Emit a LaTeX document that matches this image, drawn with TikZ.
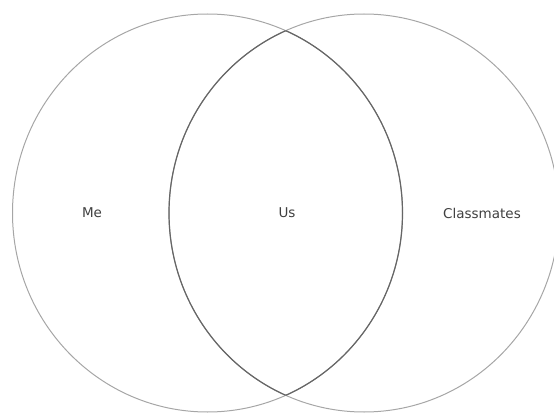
\documentclass[tikz,border=0pt]{standalone}
\usepackage{fontspec}
\setmainfont{DejaVu Sans}
\usetikzlibrary{positioning}

\begin{document}
\begin{tikzpicture}[
  x=1pt, y=1pt,
  set/.style={draw=black!35, line width=1pt},
  lens/.style={draw=black!60, line width=1.2pt},
  lbl/.style={text=black!75, font=\fontsize{13.5}{16}\selectfont}
]
\useasboundingbox (0,0) rectangle (554,413);

% Centres of the two sets
\coordinate (mec) at (207.5,200);
\coordinate (classc) at (364,200);

% Sets
\draw[set] (mec) ellipse [x radius=195, y radius=199];
\draw[set] (classc) ellipse [x radius=195, y radius=199];

% Overlap border, a bit darker
\begin{scope}
  \clip (classc) ellipse [x radius=195, y radius=199];
  \draw[lens] (mec) ellipse [x radius=195, y radius=199];
\end{scope}
\begin{scope}
  \clip (mec) ellipse [x radius=195, y radius=199];
  \draw[lens] (classc) ellipse [x radius=195, y radius=199];
\end{scope}

% Labels
\node[lbl] (me) at (92,200) {Me};
\node[lbl] (us) at (287,200) {Us};
\node[lbl] (classmates) at (482,200) {Classmates};

\end{tikzpicture}
\end{document}
